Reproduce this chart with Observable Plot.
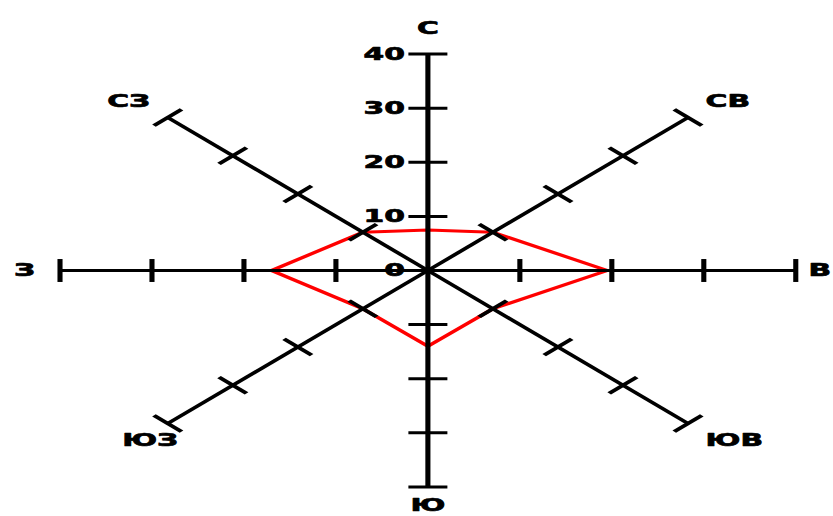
<!DOCTYPE html>
<html><head><meta charset="utf-8">
<script src="https://cdn.jsdelivr.net/npm/d3@7"></script>
<script src="https://cdn.jsdelivr.net/npm/@observablehq/plot@0.6"></script>
<style>html,body{margin:0;padding:0;background:#fff;overflow:hidden}#chart svg{display:block}</style>
</head><body><div id="chart"></div>
<script>
// Wind rose directions (compass points, Russian), clockwise from north
const directions = ["С", "СВ", "В", "ЮВ", "Ю", "ЮЗ", "З", "СЗ"];
const angles = [90, 45, 0, -45, -90, -135, 180, 135];
const values = [7.5, 10, 19.5, 10, 14, 10, 17, 10];
const tickValues = [10, 20, 30, 40];
const tickLabels = [0, 10, 20, 30, 40];
const rMax = 40;

const rad = d => d * Math.PI / 180;
const W0 = 490, H = 516, FULLW = 833;
const tickHalf = 2.12;

const axes = angles.map(a => ({x1: 0, y1: 0, x2: rMax * Math.cos(rad(a)), y2: rMax * Math.sin(rad(a))}));
const ticks = [];
angles.forEach(a => {
  const c = Math.cos(rad(a)), s = Math.sin(rad(a));
  tickValues.forEach(t => {
    ticks.push({x1: t * c + tickHalf * s, y1: t * s - tickHalf * c, x2: t * c - tickHalf * s, y2: t * s + tickHalf * c});
  });
});
const poly = directions.map((d, i) => ({dir: d, x: values[i] * Math.cos(rad(angles[i])), y: values[i] * Math.sin(rad(angles[i]))}));

const font = {fontSize: 17.5, fontWeight: "bold", fontFamily: "DejaVu Sans", fill: "black", stroke: "black", strokeWidth: 0.7};

// label placement: radius and anchors per compass point
function labelSpec(d, a) {
  const c = Math.cos(rad(a)), s = Math.sin(rad(a));
  let r = 42.7;
  let textAnchor = c > 0.01 ? "start" : c < -0.01 ? "end" : "middle";
  const lineAnchor = s > 0.01 ? "bottom" : s < -0.01 ? "top" : "middle";
  if (d === "С") r = 43.8;
  if (d === "Ю") r = 42.2;
  if (d === "В") { r = 43.85; textAnchor = "end"; }
  if (d === "ЮЗ") textAnchor = "middle";
  return {x: r * c, y: r * s, textAnchor, lineAnchor};
}
const labelMarks = directions.map((d, i) => {
  const sp = labelSpec(d, angles[i]);
  return Plot.text([{x: sp.x, y: sp.y, t: d}], {x: "x", y: "y", text: "t", textAnchor: sp.textAnchor, lineAnchor: sp.lineAnchor, ...font});
});

const chart = Plot.plot({
  width: W0, height: H, margin: 0,
  x: {domain: [-40, 40], range: [251.2 - 216.4, 251.2 + 216.4], axis: null},
  y: {domain: [-40, 40], range: [270 + 216.4, 270 - 216.4], axis: null},
  marks: [
    Plot.line(poly, {x: "x", y: "y", curve: "linear-closed", stroke: "#ff0000", strokeWidth: 3}),
    Plot.link(axes, {x1: "x1", y1: "y1", x2: "x2", y2: "y2", stroke: "black", strokeWidth: 3}),
    Plot.link(ticks, {x1: "x1", y1: "y1", x2: "x2", y2: "y2", stroke: "black", strokeWidth: 3}),
    Plot.text(tickLabels, {x: 0, y: d => d, text: d => String(d), textAnchor: "end", dx: -13.5, lineAnchor: "middle", ...font}),
    ...labelMarks
  ]
});
chart.setAttribute("width", FULLW);
chart.setAttribute("height", H);
chart.setAttribute("viewBox", `0 0 ${W0} ${H}`);
chart.setAttribute("preserveAspectRatio", "none");
chart.style.width = FULLW + "px";
chart.style.height = H + "px";
chart.style.maxWidth = "none";
document.getElementById("chart").appendChild(chart);
</script>
</body></html>
